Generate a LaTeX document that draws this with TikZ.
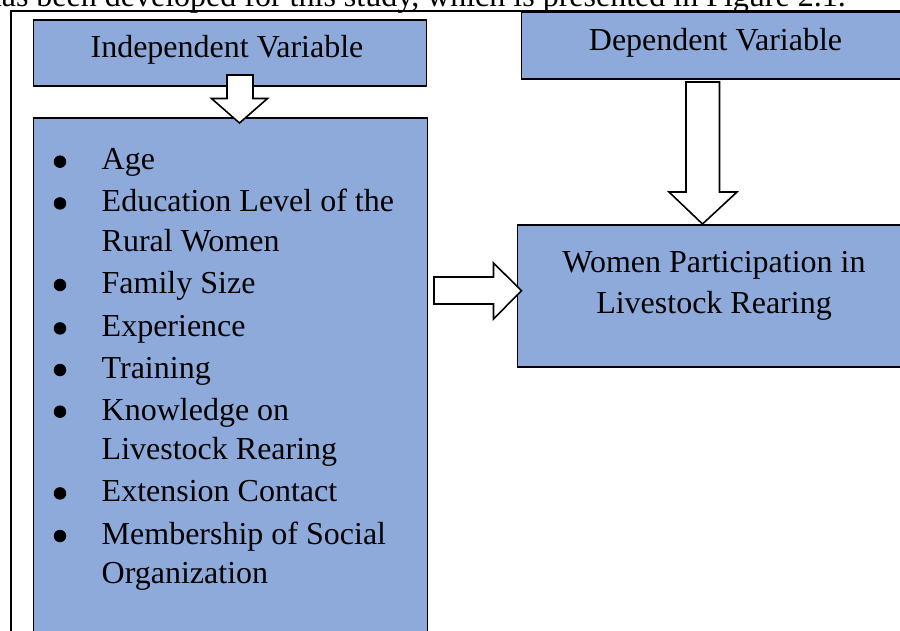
\documentclass[tikz,border=0pt]{standalone}
\usepackage{fontspec}
\setmainfont{Liberation Serif}
\definecolor{boxblue}{HTML}{8EAADB}
\begin{document}
\begin{tikzpicture}[x=1pt,y=-1pt,
  box/.style={draw=black,line width=1.6pt,fill=boxblue,inner sep=0pt,anchor=north west},
  frame/.style={draw=black,line width=1.8pt},
  blockarrow/.style={draw=black,line width=1.6pt,fill=white,line join=miter},
  txt/.style={font=\fontsize{32}{38}\selectfont,inner sep=0pt,anchor=base west},
  ctxt/.style={font=\fontsize{32}{38}\selectfont,inner sep=0pt,anchor=base},
  bul/.style={circle,fill=black,inner sep=0pt,minimum size=12.5pt}]
\useasboundingbox (0,0) rectangle (900,631);
\clip (0,0) rectangle (900,631);
\fill[white] (0,0) rectangle (900,631);

% running text above the figure
\node[txt,anchor=base east] (caption) at (846,7) {has been developed for this study, which is presented in Figure 2.1.};

% outer frame
\draw[frame] (11,11) rectangle (930,660);

% boxes
\node[box,minimum width=393pt,minimum height=66pt] (indep) at (32.5,19) {};
\node[box,minimum width=394pt,minimum height=560pt] (list) at (32.5,117) {};
\node[box,minimum width=420pt,minimum height=66.5pt] (dep) at (520.5,11.5) {};
\node[box,minimum width=420pt,minimum height=142pt] (women) at (516.5,224) {};

% box texts
\node[ctxt] (indeptxt) at (227,58) {Independent Variable};
\node[ctxt] (deptxt) at (715.5,50.7) {Dependent Variable};
\node[ctxt] (w1) at (714,272.7) {Women Participation in};
\node[ctxt] (w2) at (714,313.3) {Livestock Rearing};

% list items
\foreach \y/\t [count=\i] in {170/Age, 211.7/Education Level of the, 251.7/Rural Women, 293.3/Family Size, 336.7/Experience, 378.3/Training, 420/Knowledge on, 459.3/Livestock Rearing, 501.7/Extension Contact, 544.3/Membership of Social, 583.3/Organization}
  \node[txt] (item\i) at (101.5,\y) {\t};
\foreach \y [count=\i] in {170,211.7,293.3,336.7,378.3,420,501.7,544.3}
  \node[bul] (bullet\i) at (60,\y-8.3) {};

% block arrows
\coordinate (a1tip) at (239.5,123);
\draw[blockarrow] (227,75) -- (253,75) -- (253,98.5) -- (267.5,98.5) -- (a1tip)
   -- (211.5,98.5) -- (227,98.5) -- cycle;
\coordinate (a2tip) at (521.5,290.7);
\draw[blockarrow] (434,277) -- (493.5,277) -- (493.5,263) -- (a2tip)
   -- (493.5,319) -- (493.5,304) -- (434,304) -- cycle;
\coordinate (a3tip) at (702.5,224);
\draw[blockarrow] (686,82) -- (719.5,82) -- (719.5,192) -- (737,192) -- (a3tip)
   -- (669,192) -- (686,192) -- cycle;
\end{tikzpicture}
\end{document}
